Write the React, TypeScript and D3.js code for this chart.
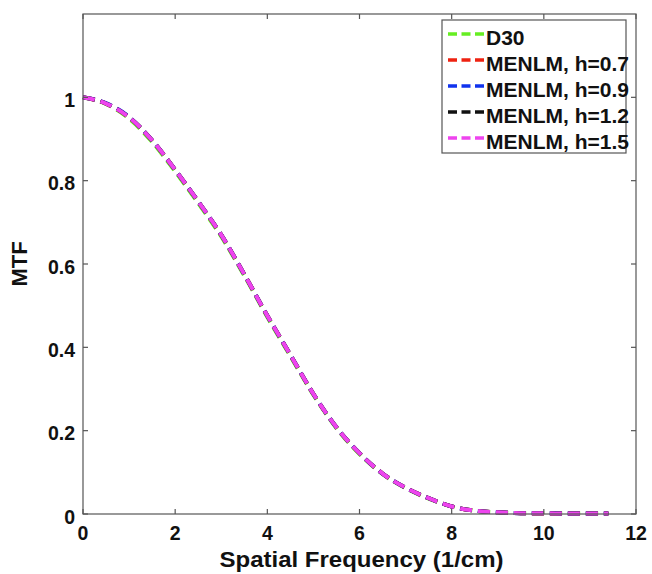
import React from "react";
import * as d3 from "d3";

const freqs = [0, 0.5, 1, 1.5, 2, 2.5, 3, 3.5, 4, 4.5, 5, 5.5, 6, 6.5, 7, 7.5, 8, 8.5, 9, 9.5, 10, 10.5, 11, 11.4];

const d30 = [1.0, 0.984, 0.949, 0.893, 0.822, 0.746, 0.666, 0.572, 0.473, 0.379, 0.286, 0.206, 0.144, 0.096, 0.062, 0.037, 0.018, 0.008, 0.004, 0.002, 0.002, 0.001, 0.001, 0.001];
const h07 = [1.0, 0.985, 0.952, 0.897, 0.826, 0.750, 0.670, 0.575, 0.476, 0.382, 0.288, 0.208, 0.146, 0.097, 0.063, 0.038, 0.018, 0.008, 0.004, 0.002, 0.001, 0.001, 0.001, 0.001];
const h09 = [1.0, 0.986, 0.953, 0.897, 0.826, 0.750, 0.670, 0.575, 0.476, 0.382, 0.288, 0.208, 0.146, 0.097, 0.063, 0.038, 0.018, 0.008, 0.004, 0.002, 0.002, 0.001, 0.001, 0.001];
const h12 = [1.0, 0.985, 0.952, 0.897, 0.826, 0.750, 0.670, 0.575, 0.476, 0.382, 0.288, 0.208, 0.146, 0.097, 0.063, 0.038, 0.018, 0.008, 0.004, 0.002, 0.002, 0.001, 0.001, 0.001];
const h15 = [1.0, 0.985, 0.952, 0.897, 0.826, 0.750, 0.670, 0.575, 0.476, 0.382, 0.288, 0.208, 0.146, 0.097, 0.063, 0.038, 0.018, 0.008, 0.004, 0.002, 0.002, 0.001, 0.001, 0.001];

const seriesNames = ["D30", "MENLM, h=0.7", "MENLM, h=0.9", "MENLM, h=1.2", "MENLM, h=1.5"];
const seriesColors = ["#66ee22", "#ee2211", "#1133ee", "#111111", "#ee44ee"];
const seriesValues = [d30, h07, h09, h12, h15];

const xTicks = [0, 2, 4, 6, 8, 10, 12];
const yTicks = [0, 0.2, 0.4, 0.6, 0.8, 1];
const yTickLabels = ["0", "0.2", "0.4", "0.6", "0.8", "1"];

const W = 652;
const H = 574;
const L = 83, R = 636, T = 14, B = 514;
const FONT = "'Liberation Sans', Arial, Helvetica, sans-serif";
const AX = "#555555";

export default function App() {
  const x = d3.scaleLinear().domain([0, 12]).range([L, R]);
  const y = d3.scaleLinear().domain([0, 1.2]).range([B, T]);
  const line = d3
    .line<number>()
    .x((_, i) => x(freqs[i]))
    .y((v) => y(v))
    .curve(d3.curveMonotoneX);

  const legX = 442, legY = 20, legW = 184, legH = 133;
  const legRow = 26;
  const legFirst = 34;

  return (
    <svg
      width={W}
      height={H}
      style={{ position: "absolute", left: 0, top: 0, background: "#fff" }}
      fontFamily={FONT}
    >
      <rect x={0} y={0} width={W} height={H} fill="#fff" />
      {seriesValues.map((vals, i) => (
        <path
          key={seriesNames[i]}
          d={line(vals) || ""}
          fill="none"
          stroke={seriesColors[i]}
          strokeWidth={4}
          strokeDasharray="12,6"
        />
      ))}
      <rect x={L} y={T} width={R - L} height={B - T} fill="none" stroke={AX} strokeWidth={1.2} />
      {xTicks.map((t) => (
        <g key={"x" + t}>
          <line x1={x(t)} x2={x(t)} y1={B} y2={B - 5} stroke={AX} strokeWidth={1.2} />
          <line x1={x(t)} x2={x(t)} y1={T} y2={T + 5} stroke={AX} strokeWidth={1.2} />
          <text x={x(t)} y={540} textAnchor="middle" fontSize={19.5} fontWeight="bold" fill="#111">
            {t}
          </text>
        </g>
      ))}
      {yTicks.map((t, i) => (
        <g key={"y" + t}>
          <line x1={L} x2={L + 5} y1={y(t)} y2={y(t)} stroke={AX} strokeWidth={1.2} />
          <line x1={R} x2={R - 5} y1={y(t)} y2={y(t)} stroke={AX} strokeWidth={1.2} />
          <text x={75} y={y(t) + 9.5} textAnchor="end" fontSize={19.5} fontWeight="bold" fill="#111">
            {yTickLabels[i]}
          </text>
        </g>
      ))}
      <text
        x={(L + R) / 2 + 2}
        y={567}
        textAnchor="middle"
        fontSize={22}
        fontWeight="bold"
        fill="#111"
        textLength={284}
        lengthAdjust="spacingAndGlyphs"
      >
        Spatial Frequency (1/cm)
      </text>
      <text
        transform={`translate(27,${(T + B) / 2}) rotate(-90)`}
        textAnchor="middle"
        fontSize={22}
        fontWeight="bold"
        fill="#111"
      >
        MTF
      </text>
      <rect x={legX} y={legY} width={legW} height={legH} fill="#fff" stroke={AX} strokeWidth={1.2} />
      {seriesNames.map((name, i) => {
        const ly = legFirst + i * legRow;
        return (
          <g key={"leg" + name}>
            <line
              x1={448}
              x2={484}
              y1={ly}
              y2={ly}
              stroke={seriesColors[i]}
              strokeWidth={3.5}
              strokeDasharray="9,4.5"
            />
            <text x={486} y={ly + 10.5} fontSize={21} fontWeight="bold" fill="#111">
              {name}
            </text>
          </g>
        );
      })}
    </svg>
  );
}
